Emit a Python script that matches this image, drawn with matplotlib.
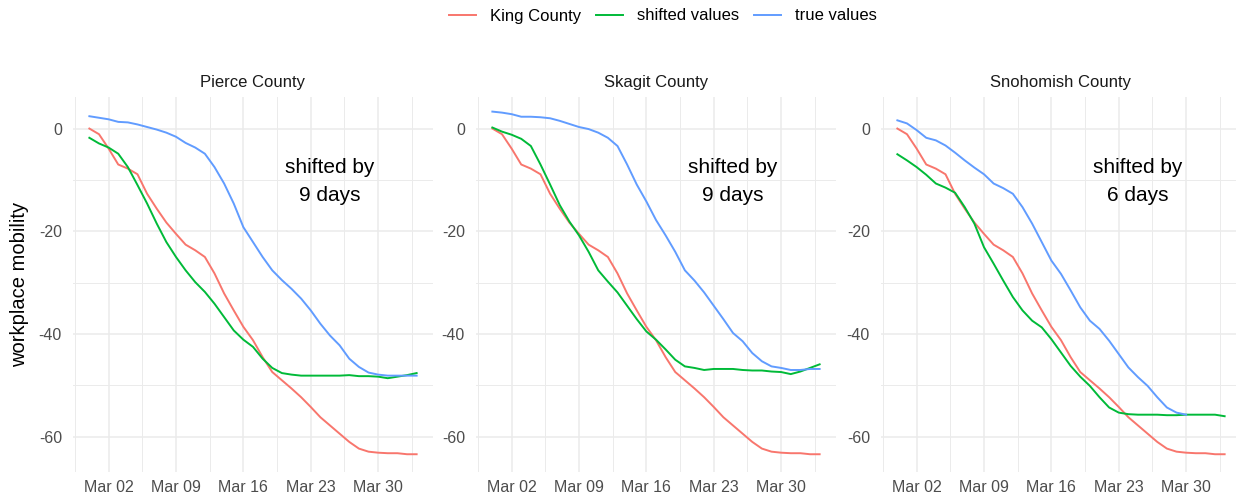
import numpy as np
import pandas as pd
import matplotlib
matplotlib.use('Agg')
import matplotlib.pyplot as plt
import matplotlib.dates as mdates

plt.rcParams['font.family'] = ['Liberation Sans', 'DejaVu Sans']
plt.rcParams['axes.unicode_minus'] = False

dates = pd.date_range('2020-02-29', periods=35)

king = [0.0, -1.1, -3.9, -7.0, -7.8, -8.9, -12.7, -15.6, -18.3, -20.5,
        -22.6, -23.7, -25.0, -28.2, -32.1, -35.4, -38.6, -41.2, -44.5, -47.4,
        -49.0, -50.6, -52.3, -54.2, -56.2, -57.8, -59.4, -61.0, -62.3, -62.9,
        -63.1, -63.2, -63.2, -63.4, -63.4]

pierce_true = [2.4, 2.1, 1.8, 1.3, 1.2, 0.8, 0.3, -0.2, -0.8, -1.6,
               -2.8, -3.7, -4.9, -7.5, -10.7, -14.6, -19.2, -22.1, -25.0, -27.6,
               -29.5, -31.2, -33.1, -35.4, -38.0, -40.3, -42.2, -44.8, -46.4, -47.5,
               -47.9, -48.1, -48.1, -48.1, -48.1]
pierce_shift = [-1.8, -2.9, -3.7, -4.9, -7.5, -11.0, -14.6, -18.5, -22.1, -25.0,
                -27.6, -29.9, -31.8, -34.1, -36.7, -39.3, -41.1, -42.5, -44.8, -46.6,
                -47.6, -47.9, -48.1, -48.1, -48.1, -48.1, -48.1, -48.0, -48.2, -48.2,
                -48.3, -48.6, -48.3, -48.0, -47.6]

skagit_true = [3.3, 3.1, 2.8, 2.3, 2.3, 2.2, 2.0, 1.5, 0.9, 0.3,
               -0.1, -0.8, -1.8, -3.4, -7.0, -10.9, -14.2, -17.8, -20.8, -24.0,
               -27.6, -29.6, -31.9, -34.5, -37.1, -39.8, -41.4, -43.7, -45.3, -46.3,
               -46.6, -47.0, -47.0, -46.8, -46.8]
skagit_shift = [0.2, -0.6, -1.2, -2.0, -3.4, -7.0, -10.9, -14.9, -18.1, -20.8,
                -24.0, -27.6, -29.8, -31.9, -34.5, -37.1, -39.5, -41.1, -43.0, -45.0,
                -46.3, -46.6, -47.0, -46.8, -46.8, -46.8, -47.0, -47.1, -47.1, -47.3,
                -47.4, -47.8, -47.3, -46.6, -45.9]

snoh_true = [1.6, 1.0, -0.3, -1.8, -2.3, -3.3, -4.7, -6.2, -7.6, -8.9,
             -10.7, -11.6, -12.7, -15.3, -18.5, -22.1, -25.7, -28.3, -31.5, -34.8,
             -37.4, -39.0, -41.3, -43.9, -46.5, -48.4, -50.1, -52.3, -54.3, -55.3,
             -55.7, np.nan, np.nan, np.nan, np.nan]
snoh_shift = [-5.0, -6.2, -7.5, -9.0, -10.7, -11.5, -12.5, -15.3, -18.5, -23.1,
              -26.3, -29.6, -32.8, -35.4, -37.4, -38.7, -41.0, -43.6, -46.2, -48.3,
              -50.1, -52.3, -54.3, -55.3, -55.6, -55.7, -55.7, -55.7, -55.8, -55.8,
              -55.7, -55.7, -55.7, -55.7, -56.0]

panels = ['Pierce County', 'Skagit County', 'Snohomish County']
shifted = [pierce_shift, skagit_shift, snoh_shift]
true_vals = [pierce_true, skagit_true, snoh_true]
notes = ['shifted by\n9 days', 'shifted by\n9 days', 'shifted by\n6 days']

red, green, blue = '#F8766D', '#00BA38', '#619CFF'
grid_col = '#EBEBEB'

fig = plt.figure(figsize=(12.36, 5.0), dpi=100)
W, H = 1236.0, 500.0
lefts = [73, 476, 881]

x0 = mdates.date2num(dates[0])
major = [mdates.date2num(pd.Timestamp(d)) for d in
         ['2020-03-02', '2020-03-09', '2020-03-16', '2020-03-23', '2020-03-30']]
minor = [m - 3.5 for m in major] + [major[-1] + 3.5]

for i, name in enumerate(panels):
    ax = fig.add_axes([lefts[i] / W, 1 - 471.7 / H, 360 / W, 375 / H])
    ax.plot(dates, king, color=red, lw=1.4, label='King County')
    ax.plot(dates, shifted[i], color=green, lw=1.4, label='shifted values')
    ax.plot(dates, true_vals[i], color=blue, lw=1.4, label='true values')

    ax.set_xlim(x0 - 1.7, x0 + 34 + 1.7)
    ax.set_ylim(-66.8, 6.2)
    ax.set_xticks(major)
    ax.xaxis.set_major_formatter(mdates.DateFormatter('%b %d'))
    ax.set_xticks(minor, minor=True)
    ax.set_yticks([0, -20, -40, -60])
    ax.set_yticks([-10, -30, -50], minor=True)
    ax.grid(which='major', color=grid_col, lw=1.1)
    ax.grid(which='minor', color=grid_col, lw=0.7)
    ax.set_axisbelow(True)
    for s in ax.spines.values():
        s.set_visible(False)
    ax.tick_params(which='both', length=0)
    ax.tick_params(axis='x', labelsize=11.5, labelcolor='#4D4D4D', pad=6)
    ax.tick_params(axis='y', labelsize=11.5, labelcolor='#4D4D4D', pad=8)
    ax.set_title(name, fontsize=12, color='#1A1A1A', pad=7)

    ax.text(x0 + 25, -10.3, notes[i], ha='center', va='center',
            fontsize=15, linespacing=1.6, color='black')

fig.text(20 / W, 1 - 284 / H, 'workplace mobility', rotation=90,
         ha='center', va='center', fontsize=14.5, color='black')

handles, labels = ax.get_legend_handles_labels()
fig.legend(handles, labels, loc='center', bbox_to_anchor=(663 / W, 1 - 16 / H),
           ncol=3, frameon=False, fontsize=12, handlelength=1.6,
           handletextpad=0.85, columnspacing=0.9)

fig.savefig('out.png', dpi=100)
